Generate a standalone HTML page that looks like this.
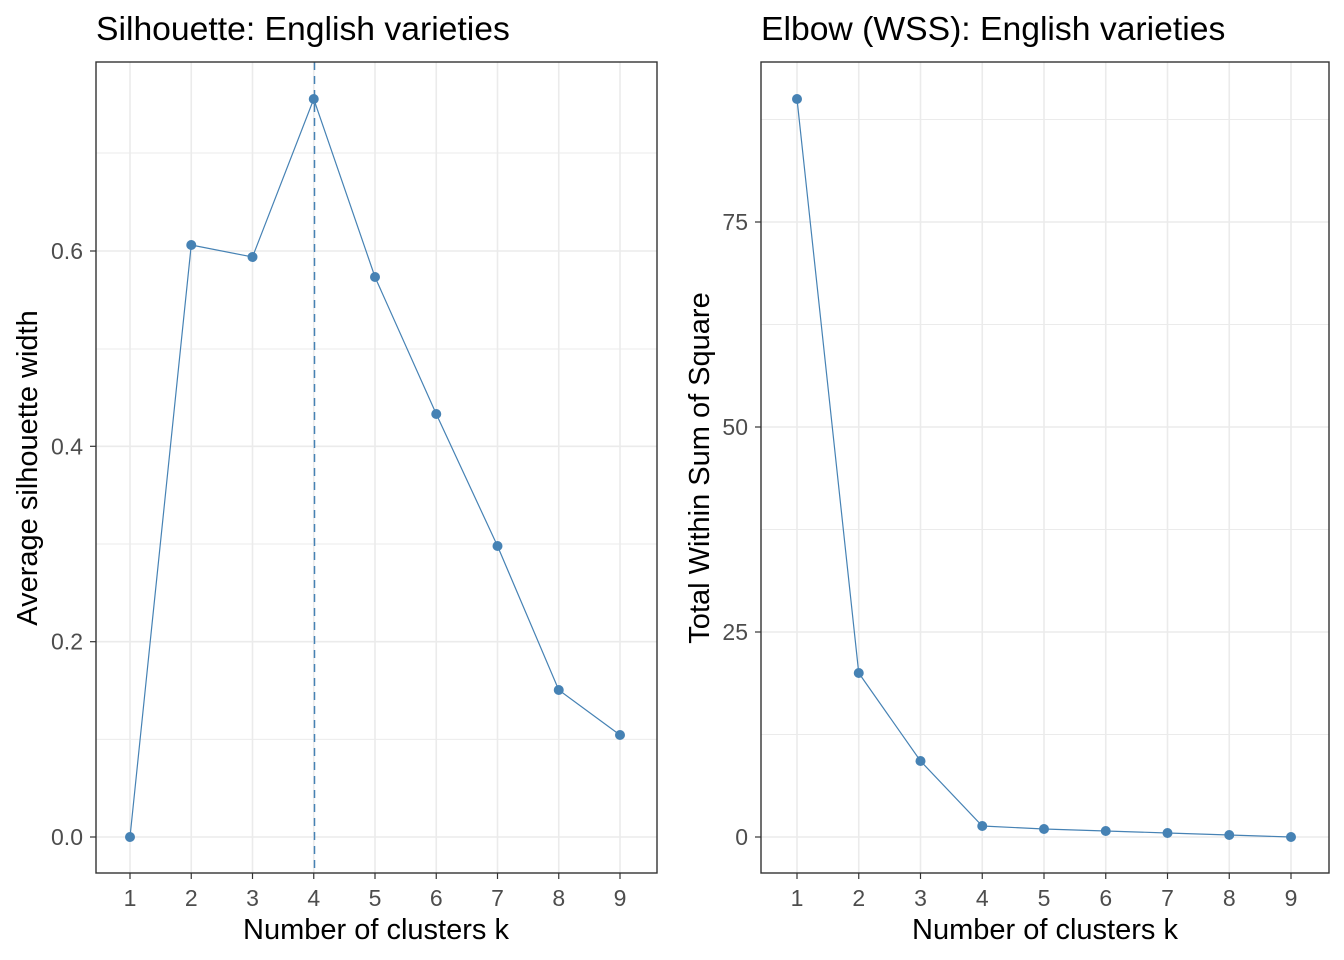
<!DOCTYPE html>
<html><head><meta charset="utf-8"><style>body{margin:0;background:#fff}svg{display:block}text{font-family:"Liberation Sans",Arial,sans-serif}</style></head>
<body>
<svg width="1344" height="960" viewBox="0 0 1344 960" xmlns="http://www.w3.org/2000/svg">
<rect width="1344" height="960" fill="#fff"/>
<!-- LEFT PANEL -->
<g stroke="#ebebeb" stroke-width="1">
<line x1="96" x2="657" y1="739.4" y2="739.4"/><line x1="96" x2="657" y1="544" y2="544"/><line x1="96" x2="657" y1="349" y2="349"/><line x1="96" x2="657" y1="153" y2="153"/>
</g>
<g stroke="#ebebeb" stroke-width="1.6">
<line x1="96" x2="657" y1="837" y2="837"/><line x1="96" x2="657" y1="641.7" y2="641.7"/><line x1="96" x2="657" y1="446.3" y2="446.3"/><line x1="96" x2="657" y1="251" y2="251"/>
<line x1="130" x2="130" y1="62" y2="873"/><line x1="191.25" x2="191.25" y1="62" y2="873"/><line x1="252.5" x2="252.5" y1="62" y2="873"/><line x1="313.75" x2="313.75" y1="62" y2="873"/><line x1="375" x2="375" y1="62" y2="873"/><line x1="436.25" x2="436.25" y1="62" y2="873"/><line x1="497.5" x2="497.5" y1="62" y2="873"/><line x1="558.75" x2="558.75" y1="62" y2="873"/><line x1="620" x2="620" y1="62" y2="873"/>
</g>
<line x1="314.5" x2="314.5" y1="62" y2="873" stroke="#4682b4" stroke-width="1.5" stroke-dasharray="8,6"/>
<polyline fill="none" stroke="#4682b4" stroke-width="1.2" points="130,837 191.25,245 252.5,257 313.75,99 375,277 436.25,414 497.5,546 558.75,690 620,735"/>
<g fill="#4682b4"><circle cx="130" cy="837" r="5"/><circle cx="191.25" cy="245" r="5"/><circle cx="252.5" cy="257" r="5"/><circle cx="313.75" cy="99" r="5"/><circle cx="375" cy="277" r="5"/><circle cx="436.25" cy="414" r="5"/><circle cx="497.5" cy="546" r="5"/><circle cx="558.75" cy="690" r="5"/><circle cx="620" cy="735" r="5"/></g>
<rect x="96" y="62" width="561" height="811" fill="none" stroke="#333" stroke-width="1.4"/>
<g stroke="#333" stroke-width="1.2">
<line x1="90" x2="96" y1="837" y2="837"/><line x1="90" x2="96" y1="641.7" y2="641.7"/><line x1="90" x2="96" y1="446.3" y2="446.3"/><line x1="90" x2="96" y1="251" y2="251"/>
<line x1="130" x2="130" y1="873" y2="879"/><line x1="191.25" x2="191.25" y1="873" y2="879"/><line x1="252.5" x2="252.5" y1="873" y2="879"/><line x1="313.75" x2="313.75" y1="873" y2="879"/><line x1="375" x2="375" y1="873" y2="879"/><line x1="436.25" x2="436.25" y1="873" y2="879"/><line x1="497.5" x2="497.5" y1="873" y2="879"/><line x1="558.75" x2="558.75" y1="873" y2="879"/><line x1="620" x2="620" y1="873" y2="879"/>
</g>
<g fill="#4d4d4d" font-size="23" text-anchor="end">
<text x="83" y="845">0.0</text><text x="83" y="649.7">0.2</text><text x="83" y="454.3">0.4</text><text x="83" y="259">0.6</text>
</g>
<g fill="#4d4d4d" font-size="23" text-anchor="middle">
<text x="130" y="906">1</text><text x="191.25" y="906">2</text><text x="252.5" y="906">3</text><text x="313.75" y="906">4</text><text x="375" y="906">5</text><text x="436.25" y="906">6</text><text x="497.5" y="906">7</text><text x="558.75" y="906">8</text><text x="620" y="906">9</text>
</g>
<text x="376" y="939" font-size="29" text-anchor="middle" fill="#000">Number of clusters k</text>
<text transform="translate(37,468) rotate(-90)" font-size="29" text-anchor="middle" fill="#000">Average silhouette width</text>
<text x="96" y="40" font-size="33.7" fill="#000">Silhouette: English varieties</text>

<!-- RIGHT PANEL -->
<g stroke="#ebebeb" stroke-width="1">
<line x1="761" x2="1329" y1="734.5" y2="734.5"/><line x1="761" x2="1329" y1="529.5" y2="529.5"/><line x1="761" x2="1329" y1="324.5" y2="324.5"/><line x1="761" x2="1329" y1="119.5" y2="119.5"/>
</g>
<g stroke="#ebebeb" stroke-width="1.6">
<line x1="761" x2="1329" y1="837" y2="837"/><line x1="761" x2="1329" y1="632" y2="632"/><line x1="761" x2="1329" y1="427" y2="427"/><line x1="761" x2="1329" y1="222" y2="222"/>
<line x1="797" x2="797" y1="62" y2="873"/><line x1="858.75" x2="858.75" y1="62" y2="873"/><line x1="920.5" x2="920.5" y1="62" y2="873"/><line x1="982.25" x2="982.25" y1="62" y2="873"/><line x1="1044" x2="1044" y1="62" y2="873"/><line x1="1105.75" x2="1105.75" y1="62" y2="873"/><line x1="1167.5" x2="1167.5" y1="62" y2="873"/><line x1="1229.25" x2="1229.25" y1="62" y2="873"/><line x1="1291" x2="1291" y1="62" y2="873"/>
</g>
<polyline fill="none" stroke="#4682b4" stroke-width="1.2" points="797,99 858.75,673 920.5,761 982.25,826 1044,829 1105.75,831 1167.5,833 1229.25,835 1291,837"/>
<g fill="#4682b4"><circle cx="797" cy="99" r="5"/><circle cx="858.75" cy="673" r="5"/><circle cx="920.5" cy="761" r="5"/><circle cx="982.25" cy="826" r="5"/><circle cx="1044" cy="829" r="5"/><circle cx="1105.75" cy="831" r="5"/><circle cx="1167.5" cy="833" r="5"/><circle cx="1229.25" cy="835" r="5"/><circle cx="1291" cy="837" r="5"/></g>
<rect x="761" y="62" width="568" height="811" fill="none" stroke="#333" stroke-width="1.4"/>
<g stroke="#333" stroke-width="1.2">
<line x1="755" x2="761" y1="837" y2="837"/><line x1="755" x2="761" y1="632" y2="632"/><line x1="755" x2="761" y1="427" y2="427"/><line x1="755" x2="761" y1="222" y2="222"/>
<line x1="797" x2="797" y1="873" y2="879"/><line x1="858.75" x2="858.75" y1="873" y2="879"/><line x1="920.5" x2="920.5" y1="873" y2="879"/><line x1="982.25" x2="982.25" y1="873" y2="879"/><line x1="1044" x2="1044" y1="873" y2="879"/><line x1="1105.75" x2="1105.75" y1="873" y2="879"/><line x1="1167.5" x2="1167.5" y1="873" y2="879"/><line x1="1229.25" x2="1229.25" y1="873" y2="879"/><line x1="1291" x2="1291" y1="873" y2="879"/>
</g>
<g fill="#4d4d4d" font-size="23" text-anchor="end">
<text x="748" y="845">0</text><text x="748" y="640">25</text><text x="748" y="435">50</text><text x="748" y="230">75</text>
</g>
<g fill="#4d4d4d" font-size="23" text-anchor="middle">
<text x="797" y="906">1</text><text x="858.75" y="906">2</text><text x="920.5" y="906">3</text><text x="982.25" y="906">4</text><text x="1044" y="906">5</text><text x="1105.75" y="906">6</text><text x="1167.5" y="906">7</text><text x="1229.25" y="906">8</text><text x="1291" y="906">9</text>
</g>
<text x="1045" y="939" font-size="29" text-anchor="middle" fill="#000">Number of clusters k</text>
<text transform="translate(709,468) rotate(-90)" font-size="29" text-anchor="middle" fill="#000">Total Within Sum of Square</text>
<text x="761" y="40" font-size="33.7" fill="#000">Elbow (WSS): English varieties</text>
</svg>
</body></html>
